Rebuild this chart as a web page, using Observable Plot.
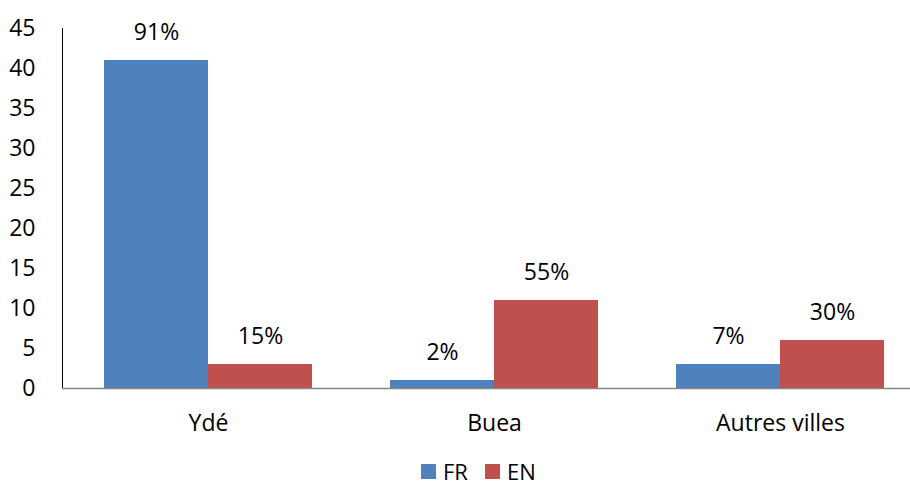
<!DOCTYPE html>
<html>
<head>
<meta charset="utf-8">
<script src="https://cdn.jsdelivr.net/npm/d3@7"></script>
<script src="https://cdn.jsdelivr.net/npm/@observablehq/plot@0.6"></script>
<style>
  body { margin: 0; background: #fff; font-family: "Open Sans", sans-serif; overflow: hidden; }
  #chart svg { display: block; }
  #legend { position: relative; height: 47px; font-size: 22px; color: #000; }
  .item { position: absolute; top: 16px; display: flex; align-items: center; height: 30px; line-height: 30px; }
  .sw { display: inline-block; width: 15px; height: 15px; margin-right: 7px; }
</style>
</head>
<body>
<div id="chart"></div>
<div id="legend"></div>
<script>
const cities = ["Ydé", "Buea", "Autres villes"];
const series = ["FR", "EN"];
const frValues = [41, 1, 3];
const enValues = [3, 11, 6];
const frLabels = ["91%", "2%", "7%"];
const enLabels = ["15%", "55%", "30%"];
const colors = ["#4F81BD", "#C0504D"];
const yTicks = [0, 5, 10, 15, 20, 25, 30, 35, 40, 45];

const frData = cities.map((c, i) => ({city: c, value: frValues[i], label: frLabels[i]}));
const enData = cities.map((c, i) => ({city: c, value: enValues[i], label: enLabels[i]}));

const half = 104;
const chart = Plot.plot({
  width: 910,
  height: 440,
  marginLeft: 62,
  marginRight: 0,
  marginTop: 28,
  marginBottom: 52,
  style: {fontFamily: "'Open Sans', sans-serif", fontSize: "23px", color: "#000", background: "#fff"},
  x: {type: "band", domain: cities, range: [63.75, 923.25], paddingInner: 0.274, paddingOuter: 0.137, align: 0.5, tickSize: 0, tickPadding: 26, label: null},
  y: {domain: [0, 45], ticks: yTicks, tickSize: 0, tickPadding: 27, label: null, line: true},
  marks: [
    Plot.barY(frData, {x: "city", y: "value", fill: colors[0], insetRight: half}),
    Plot.barY(enData, {x: "city", y: "value", fill: colors[1], insetLeft: half}),
    Plot.ruleY([0], {stroke: "#868686", strokeWidth: 1.5}),
    Plot.text(frData, {x: "city", y: "value", text: "label", dx: -half / 2, dy: -28, fill: "#000", fontSize: 23}),
    Plot.text(enData, {x: "city", y: "value", text: "label", dx: half / 2, dy: -28, fill: "#000", fontSize: 23})
  ]
});
chart.querySelectorAll("[aria-label='y-axis line'], [aria-label='y-axis'] path").forEach(p => p.setAttribute("stroke", "#868686"));
document.getElementById("chart").appendChild(chart);

const legend = document.getElementById("legend");
const legendX = [421, 485];
series.forEach((s, i) => {
  const item = document.createElement("span");
  item.className = "item";
  item.style.left = legendX[i] + "px";
  const sw = document.createElement("span");
  sw.className = "sw";
  sw.style.background = colors[i];
  item.appendChild(sw);
  item.appendChild(document.createTextNode(s));
  legend.appendChild(item);
});
</script>
</body>
</html>
